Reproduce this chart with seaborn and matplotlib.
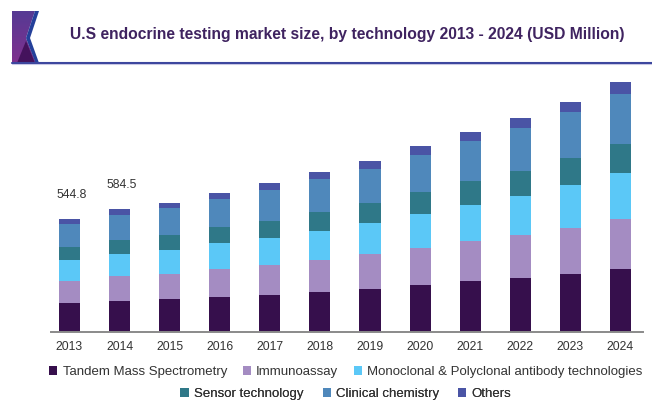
import matplotlib
matplotlib.use('Agg')
import matplotlib.pyplot as plt
from matplotlib.patches import Polygon, Patch
import numpy as np
import seaborn as sns

years = ['2013', '2014', '2015', '2016', '2017', '2018', '2019', '2020', '2021', '2022', '2023', '2024']
tandem = [135.6, 148.6, 154.9, 167.9, 177.6, 190.2, 206.7, 224.1, 243.5, 258.0, 277.3, 301.5]
immuno = [109.9, 119.5, 124.4, 134.0, 145.2, 156.3, 166.0, 180.5, 193.6, 208.1, 226.0, 243.5]
mono = [100.2, 107.9, 116.2, 127.3, 132.1, 140.4, 151.5, 164.6, 175.7, 190.2, 204.7, 222.6]
sensor = [62.9, 69.2, 71.1, 77.4, 80.8, 92.0, 96.8, 106.5, 114.7, 119.5, 130.7, 141.8]
clinical = [111.3, 121.0, 129.2, 133.1, 147.6, 158.8, 166.0, 179.1, 193.6, 211.5, 222.6, 242.0]
others = [24.2, 25.7, 24.2, 32.0, 33.9, 33.9, 40.2, 42.1, 45.0, 45.0, 49.9, 54.7]

names = ['Tandem Mass Spectrometry', 'Immunoassay', 'Monoclonal & Polyclonal antibody technologies',
         'Sensor technology', 'Clinical chemistry', 'Others']
series = [tandem, immuno, mono, sensor, clinical, others]
colors = ['#360f4c', '#a48cc2', '#5bc8f7', '#2f7888', '#4f88bb', '#4a54a5']
labels = {0: '544.8', 1: '584.5'}

sns.set_style('white')
plt.rcParams['font.family'] = ['Liberation Sans', 'DejaVu Sans']

W, H = 652, 403
fig = plt.figure(figsize=(W / 100, H / 100), dpi=100)
ax = fig.add_axes([51 / W, 1 - 331.5 / H, (643 - 51) / W, (331.5 - 75) / H])

# stacked bars, one layer at a time
bottom = np.zeros(len(years))
for name, vals, col in zip(names, series, colors):
    sns.barplot(x=years, y=vals, bottom=bottom, color=col, width=0.42, saturation=1,
                linewidth=0, ax=ax, legend=False)
    bottom = bottom + np.array(vals)

ax.set_xlim(-0.369, 11.45)
ax.set_ylim(0, (331.5 - 75) * 4.84)
ax.yaxis.set_visible(False)
sns.despine(ax=ax, left=True)
ax.spines['bottom'].set_color('#8a8a8a')
ax.spines['bottom'].set_linewidth(1.4)
ax.tick_params(axis='x', length=0, pad=7, labelsize=8.8, labelcolor='#333333')

for i, txt in labels.items():
    ax.annotate(txt, (i, bottom[i]), xytext=(1.5, 13), textcoords='offset points',
                ha='center', va='bottom', fontsize=8.8, color='#333333')

legend_ax = fig.add_axes([0, 0, 1, 1], facecolor='none')
legend_ax.axis('off')

# header ornament
grad = np.linspace(0, 1, 60)[:, None]
base = np.array([[0x56, 0x3a, 0x94]]) * (1 - grad) + np.array([[0x80, 0x30, 0x8e]]) * grad
img = legend_ax.imshow(base[:, None, :].astype(np.uint8), extent=(12, 36, 63, 11), aspect='auto', zorder=1)
legend_ax.set_xlim(0, W)
legend_ax.set_ylim(H, 0)
img.set_clip_path(Polygon([(12, 11), (35, 11), (26, 38), (36, 63), (12, 63)],
                          transform=legend_ax.transData))
legend_ax.add_patch(Polygon([(17, 63), (26, 41), (35, 63)], color='#44125c', lw=0, zorder=2))
legend_ax.add_patch(Polygon([(35, 11), (39, 11), (30, 38), (39, 63), (35.5, 63), (26, 38)],
                            color='#24409a', lw=0, zorder=2))
legend_ax.plot([12, W], [62.5, 62.5], color='#3d479e', lw=1.5, zorder=2)
legend_ax.plot([12, W], [64, 64], color='#cfcde8', lw=0.8, zorder=1)

legend_ax.text(347, 35, 'U.S endocrine testing market size, by technology 2013 - 2024 (USD Million)',
               ha='center', va='center', fontsize=11.25, fontweight='bold', color='#3f2360')

handles = [Patch(facecolor=c, linewidth=0) for c in colors]
for start, y, gap in [(0, 372, 1.18), (3, 394, 1.45)]:
    leg = legend_ax.legend(handles[start:start + 3], names[start:start + 3], ncols=3, frameon=False,
                           loc='center', bbox_to_anchor=(346, y), bbox_transform=legend_ax.transData,
                           fontsize=9.5, handlelength=0.62, handleheight=0.75, handletextpad=0.4,
                           columnspacing=gap, borderpad=0, labelcolor='#333333')
    legend_ax.add_artist(leg)

fig.savefig('out.png', dpi=100)
